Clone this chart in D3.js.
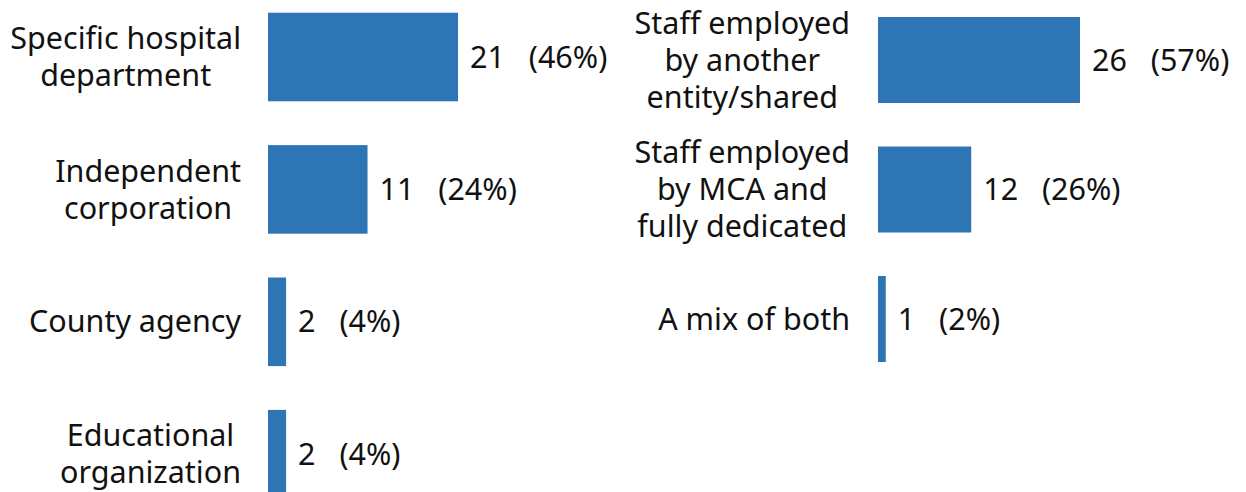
<!DOCTYPE html>
<html>
<head>
<meta charset="utf-8">
<script src="https://cdn.jsdelivr.net/npm/d3@7"></script>
<style>
  html, body { margin: 0; padding: 0; background: #fff; }
  svg { display: block; }
  text { font-family: "Noto Sans", "Open Sans", sans-serif; fill: #111; }
</style>
</head>
<body>
<svg id="chart" width="1246" height="492"></svg>
<script>
// ---- data ----
const leftCategories = [
  ["Specific hospital", "department"],
  ["Independent", "corporation"],
  ["County agency"],
  ["Educational", "organization"]
];
const leftValues = [21, 11, 2, 2];
const leftPercents = ["46%", "24%", "4%", "4%"];

const rightCategories = [
  ["Staff employed", "by another", "entity/shared"],
  ["Staff employed", "by MCA and", "fully dedicated"],
  ["A mix of both"]
];
const rightValues = [26, 12, 1];
const rightPercents = ["57%", "26%", "2%"];

// ---- drawing ----
const svg = d3.select("#chart");
const barColor = "#2E75B6";
const fontSize = 30.5;
const lineH = 37;

function panel(cfg) {
  const idx = d3.range(cfg.values.length);
  const x = d3.scaleLinear().domain([0, d3.max(cfg.values)]).range([cfg.x0, cfg.x1]);
  const y = d3.scaleBand().domain(idx).range([cfg.y0, cfg.y1]).paddingInner(cfg.pad).paddingOuter(0);

  const g = svg.append("g");
  g.selectAll("rect").data(idx).join("rect")
    .attr("x", x(0))
    .attr("y", i => y(i))
    .attr("width", i => x(cfg.values[i]) - x(0))
    .attr("height", y.bandwidth())
    .attr("fill", barColor);

  // value labels
  g.selectAll("text.val").data(idx).join("text")
    .attr("class", "val")
    .attr("x", i => x(cfg.values[i]) + 12)
    .attr("y", i => y(i) + y.bandwidth() / 2)
    .attr("dy", "0.35em")
    .attr("font-size", fontSize)
    .attr("xml:space", "preserve")
    .style("white-space", "pre")
    .style("word-spacing", "4px")
    .text(i => cfg.values[i] + "  (" + cfg.percents[i] + ")");

  // category labels: centered text block right-aligned to labelRight
  idx.forEach(i => {
    const lines = cfg.cats[i];
    const t = g.append("text")
      .attr("font-size", fontSize)
      .attr("text-anchor", "middle");
    const cy = y(i) + y.bandwidth() / 2;
    const n = lines.length;
    lines.forEach((ln, k) => {
      t.append("tspan")
        .attr("y", cy + (k - (n - 1) / 2) * lineH)
        .attr("dy", "0.35em")
        .text(ln);
    });
    let maxW = 0;
    t.selectAll("tspan").each(function () {
      maxW = Math.max(maxW, this.getComputedTextLength());
    });
    const cx = cfg.labelRight - maxW / 2;
    t.selectAll("tspan").attr("x", cx);
  });
}

panel({
  cats: leftCategories, values: leftValues, percents: leftPercents,
  x0: 268, x1: 458, y0: 12.7, y1: 12.7 + 132.4 * 3 + 88.6, pad: 0.331,
  labelRight: 241
});

panel({
  cats: rightCategories, values: rightValues, percents: rightPercents,
  x0: 878, x1: 1080, y0: 17, y1: 17 + 129.5 * 2 + 86, pad: 0.336,
  labelRight: 850
});
</script>
</body>
</html>
